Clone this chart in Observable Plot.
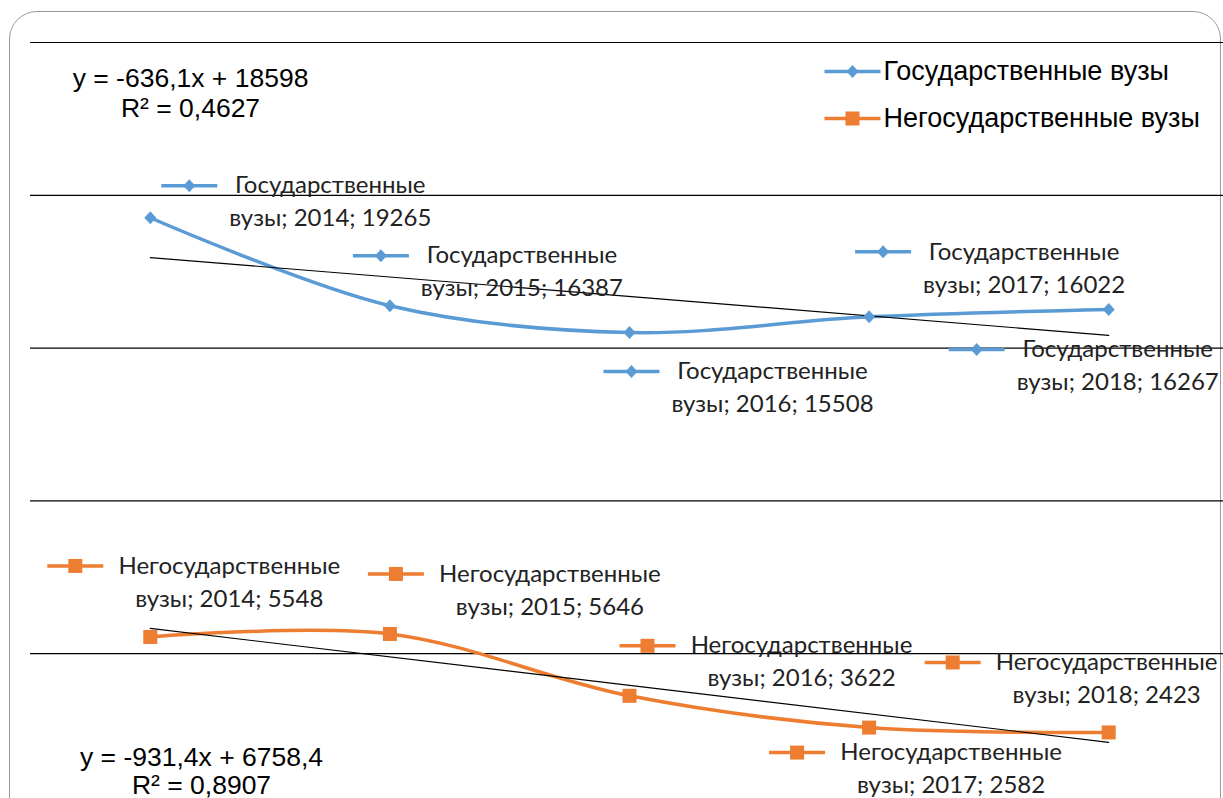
<!DOCTYPE html>
<html><head><meta charset="utf-8">
<script src="https://cdn.jsdelivr.net/npm/d3@7"></script>
<script src="https://cdn.jsdelivr.net/npm/@observablehq/plot@0.6"></script>
<style>
html,body{margin:0;padding:0;background:#fff;overflow:hidden;width:1223px;height:798px;}
#frame{position:absolute;left:9px;top:11px;width:1212px;height:900px;border:1.5px solid #9a9a9a;border-radius:28px;box-sizing:border-box;}
#chart{position:absolute;left:0;top:0;}
</style></head><body><div id="frame"></div><div id="chart"></div>
<script>
// ---- data ----
const years = [2014, 2015, 2016, 2017, 2018];
const govValues = [19265, 16387, 15508, 16022, 16267];
const privValues = [5548, 5646, 3622, 2582, 2423];
const seriesNames = ["Государственные вузы", "Негосударственные вузы"];
const gridValues = [5000, 10000, 15000, 20000, 25000];
const trendSlopes = [-636.1, -931.4];
const trendIntercepts = [18598, 6758.4];
const trendEquations = ["y = -636,1x + 18598", "y = -931,4x + 6758,4"];
const trendR2 = ["R² = 0,4627", "R² = 0,8907"];

// ---- layout (pixel offsets of data labels from their points) ----
const labelOffsets = [
  [[180, -32], [132, -50], [143, 39], [155, -65], [9, 40]],
  [[79, -71], [160, -60], [172, -50], [82, 25], [-2, -70]]
];
const keyShift = [141, 154];
const colors = ["#5B9BD5", "#ED7D31"];
const labelFont = "Lato, 'Open Sans', sans-serif";
const labelSize = 24;
const arialFont = "'Liberation Sans', Arial, sans-serif";

const lineSym = {draw(ctx) { ctx.rect(-28, -1.75, 56, 3.5); }};
const diamondSym = {draw(ctx) { ctx.moveTo(0, -6.5); ctx.lineTo(6, 0); ctx.lineTo(0, 6.5); ctx.lineTo(-6, 0); ctx.closePath(); }};
const squareSym = {draw(ctx) { ctx.rect(-7, -7, 14, 14); }};
const markers = [diamondSym, squareSym];

const series = [govValues, privValues].map((vals, s) =>
  years.map((year, i) => ({year, value: vals[i], s})));

const marks = [];
marks.push(Plot.ruleY(gridValues, {x1: 2013.5, x2: 2018.6, stroke: "#000", strokeWidth: 1.2}));

series.forEach((data, s) => {
  marks.push(Plot.line(data, {x: "year", y: "value", curve: "catmull-rom", stroke: colors[s], strokeWidth: 3.5}));
  const trend = [years[0], years[years.length - 1]].map(year => ({
    year, value: trendSlopes[s] * (year - years[0] + 1) + trendIntercepts[s]}));
  marks.push(Plot.line(trend, {x: "year", y: "value", stroke: "#000", strokeWidth: 1.2}));
  marks.push(Plot.dot(data, {x: "year", y: "value", symbol: markers[s], fill: colors[s], r: 5}));
  const [w1, w2] = seriesNames[s].split(" ");
  data.forEach((d, i) => {
    const [ox, oy] = labelOffsets[s][i];
    marks.push(Plot.dot([d], {x: "year", y: "value", dx: ox - keyShift[s], dy: oy, symbol: lineSym, fill: colors[s], r: 5}));
    marks.push(Plot.dot([d], {x: "year", y: "value", dx: ox - keyShift[s], dy: oy, symbol: markers[s], fill: colors[s], r: 5}));
    marks.push(Plot.text([d], {x: "year", y: "value", dx: ox, dy: oy, text: () => w1, lineAnchor: "middle",
      fontFamily: labelFont, fontSize: labelSize, fill: "#222", textAnchor: "middle"}));
    marks.push(Plot.text([d], {x: "year", y: "value", dx: ox, dy: oy + 33, text: dd => `${w2}; ${dd.year}; ${dd.value}`, lineAnchor: "middle",
      fontFamily: labelFont, fontSize: labelSize, fill: "#222", textAnchor: "middle"}));
  });
});

// trend equations
const eqPos = [[190, 78, 108], [201, 757, 785]];
trendEquations.forEach((eq, s) => {
  const [cx, y1, y2] = eqPos[s];
  marks.push(Plot.text([eq], {frameAnchor: "top-left", dx: cx, dy: y1, text: d => d, lineAnchor: "middle",
    fontFamily: arialFont, fontSize: 26.5, fill: "#000", textAnchor: "middle"}));
  marks.push(Plot.text([trendR2[s]], {frameAnchor: "top-left", dx: cx, dy: y2, text: d => d, lineAnchor: "middle",
    fontFamily: arialFont, fontSize: 26.5, fill: "#000", textAnchor: "middle"}));
});

// legend
const legendY = [71, 118];
seriesNames.forEach((name, s) => {
  marks.push(Plot.dot([name], {frameAnchor: "top-left", dx: 852, dy: legendY[s], symbol: lineSym, fill: colors[s], r: 5}));
  marks.push(Plot.dot([name], {frameAnchor: "top-left", dx: 852, dy: legendY[s], symbol: markers[s], fill: colors[s], r: 5}));
  marks.push(Plot.text([name], {frameAnchor: "top-left", dx: 883, dy: legendY[s], text: d => d, lineAnchor: "middle",
    fontFamily: arialFont, fontSize: 27, fill: "#000", textAnchor: "start"}));
});

const chart = Plot.plot({
  width: 1223, height: 798,
  margin: 0,
  style: {background: "transparent", overflow: "visible"},
  x: {type: "linear", domain: [2013.5, 2018.5], range: [30, 1228], axis: null},
  y: {type: "linear", domain: [0, 25000], range: [806, 42], axis: null},
  marks
});
document.getElementById("chart").appendChild(chart);
</script></body></html>
